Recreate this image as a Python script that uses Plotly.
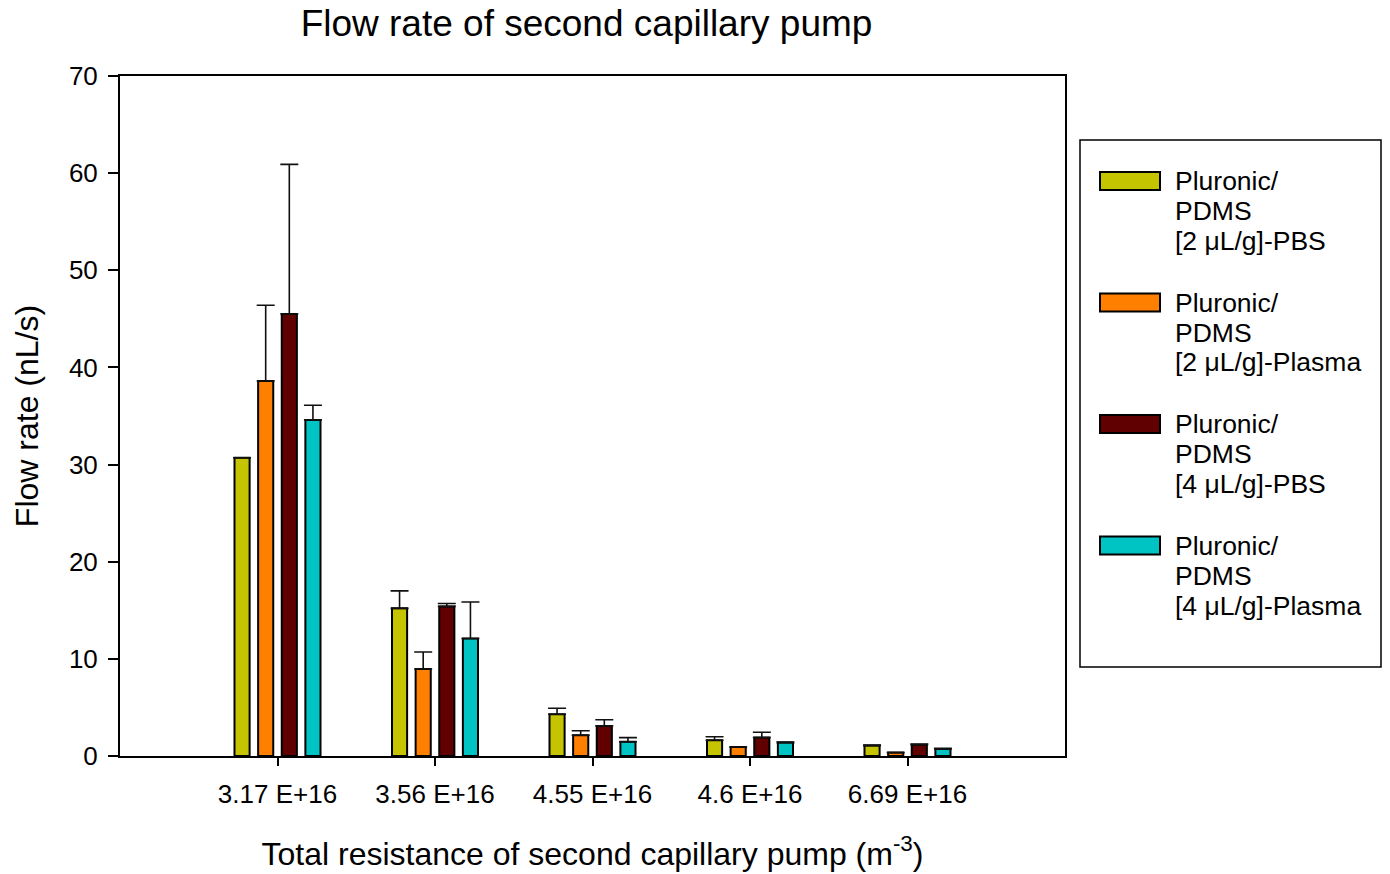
import plotly.graph_objects as go

# Categories: total resistance of the second capillary pump (m^-3)
categories = ["3.17 E+16", "3.56 E+16", "4.55 E+16", "4.6 E+16", "6.69 E+16"]

# Flow rate means (nL/s) and upper error (nL/s) for each coating / liquid
series_names = [
    ["Pluronic/", "PDMS", "[2 μL/g]-PBS"],
    ["Pluronic/", "PDMS", "[2 μL/g]-Plasma"],
    ["Pluronic/", "PDMS", "[4 μL/g]-PBS"],
    ["Pluronic/", "PDMS", "[4 μL/g]-Plasma"],
]
pbs_2 = [30.7, 15.2, 4.3, 1.62, 1.07]
plasma_2 = [38.6, 8.95, 2.13, 0.93, 0.35]
pbs_4 = [45.5, 15.4, 3.1, 1.9, 1.17]
plasma_4 = [34.6, 12.1, 1.47, 1.38, 0.72]

err_pbs_2 = [0.0, 1.8, 0.62, 0.36, 0.06]
err_plasma_2 = [7.8, 1.75, 0.47, 0.0, 0.0]
err_pbs_4 = [15.4, 0.3, 0.63, 0.55, 0.06]
err_plasma_4 = [1.5, 3.75, 0.42, 0.06, 0.06]

colors = ["#C4C400", "#FF8000", "#600000", "#00C4C4"]
values = [pbs_2, plasma_2, pbs_4, plasma_4]
errors = [err_pbs_2, err_plasma_2, err_pbs_4, err_plasma_4]

FONT = "Liberation Sans, Arial, sans-serif"

fig = go.Figure()
for name, vals, errs, col in zip(series_names, values, errors, colors):
    fig.add_trace(go.Bar(
        x=categories,
        y=vals,
        name=" ".join(name),
        marker=dict(color=col, line=dict(color="black", width=2)),
        error_y=dict(
            type="data",
            symmetric=False,
            array=errs,
            arrayminus=[0] * len(errs),
            color="#111111",
            thickness=1.6,
            width=9,
        ),
        showlegend=False,
    ))

# Legend drawn as boxed swatches with multi-line labels
L, R, T, B = 120, 1065, 76, 756
W, H = R - L, B - T


def px(x):
    return (x - L) / W


def py(y):
    return (B - y) / H


shapes = [
    dict(type="rect", xref="paper", yref="paper",
         x0=px(1080), x1=px(1381), y0=py(667), y1=py(140),
         line=dict(color="black", width=1.5), fillcolor="white", layer="below"),
]
annotations = []
for i, (name, col) in enumerate(zip(series_names, colors)):
    top = 172 + i * 121.5
    shapes.append(dict(type="rect", xref="paper", yref="paper",
                       x0=px(1100), x1=px(1160), y0=py(top + 18), y1=py(top),
                       line=dict(color="black", width=2), fillcolor=col))
    for j, line in enumerate(name):
        annotations.append(dict(
            xref="paper", yref="paper", x=px(1173), y=py(top + 9 + j * 30),
            xanchor="left", yanchor="middle", text=line, showarrow=False,
            font=dict(family=FONT, size=26.5, color="black"),
        ))

fig.update_layout(
    width=1390,
    height=874,
    margin=dict(l=L, r=1390 - R, t=T, b=874 - B, pad=0, autoexpand=False),
    paper_bgcolor="white",
    plot_bgcolor="white",
    barmode="group",
    bargap=0.4,
    bargroupgap=0.36,
    font=dict(family=FONT, color="black"),
    title=dict(
        text="Flow rate of second capillary pump",
        x=px(586.5), xref="paper", xanchor="center",
        y=1 - 23 / 874, yanchor="middle",
        font=dict(family=FONT, size=37, color="black"),
    ),
    xaxis=dict(
        type="category",
        range=[-1, 5],
        automargin=False,
        showline=True, linecolor="black", linewidth=2, mirror=True,
        ticks="outside", ticklen=8, tickwidth=1.5, tickcolor="black",
        ticklabelstandoff=6,
        tickfont=dict(family=FONT, size=26, color="black"),
        showgrid=False, zeroline=False,
        title=dict(text="Total resistance of second capillary pump (m<sup>-3</sup>)",
                   font=dict(family=FONT, size=32, color="black"), standoff=34),
    ),
    yaxis=dict(
        range=[0, 70],
        dtick=10,
        automargin=False,
        showline=True, linecolor="black", linewidth=2, mirror=True,
        ticks="outside", ticklen=10, tickwidth=1.5, tickcolor="black",
        ticklabelstandoff=5,
        tickfont=dict(family=FONT, size=26, color="black"),
        showgrid=False, zeroline=False,
        title=dict(text="Flow rate (nL/s)",
                   font=dict(family=FONT, size=32, color="black"), standoff=21),
    ),
    shapes=shapes,
    annotations=annotations,
)

fig.write_html("out.html")
